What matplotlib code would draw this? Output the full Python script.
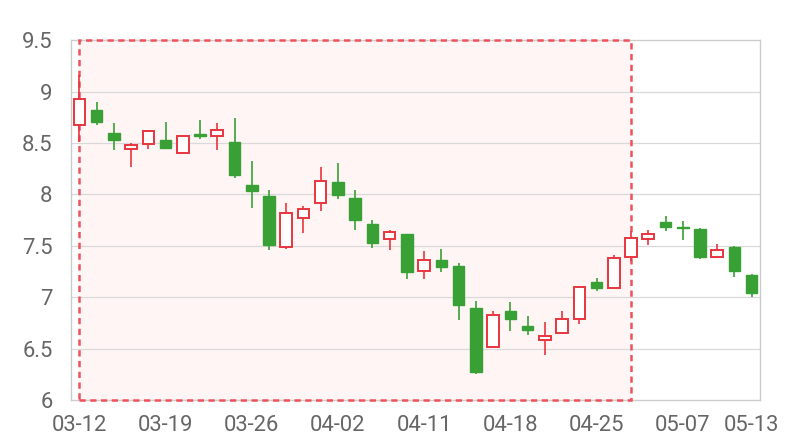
import matplotlib
matplotlib.use("Agg")
import matplotlib.pyplot as plt
from matplotlib.patches import Rectangle
import numpy as np

dates = ["03-12", "03-13", "03-14", "03-15", "03-18", "03-19", "03-20", "03-21", "03-22", "03-25",
         "03-26", "03-27", "03-28", "03-29", "04-01", "04-02", "04-03", "04-04", "04-09", "04-10",
         "04-11", "04-12", "04-15", "04-16", "04-17", "04-18", "04-19", "04-22", "04-23", "04-24",
         "04-25", "04-26", "04-29", "04-30", "05-06", "05-07", "05-08", "05-09", "05-10", "05-13"]
opens = [8.67, 8.82, 8.60, 8.44, 8.49, 8.53, 8.40, 8.59, 8.57, 8.51,
         8.09, 7.98, 7.49, 7.77, 7.92, 8.12, 7.96, 7.71, 7.57, 7.61,
         7.25, 7.36, 7.30, 6.89, 6.52, 6.87, 6.72, 6.58, 6.65, 6.79,
         7.15, 7.09, 7.39, 7.57, 7.73, 7.68, 7.66, 7.39, 7.49, 7.22]
closes = [8.93, 8.70, 8.53, 8.48, 8.62, 8.45, 8.57, 8.57, 8.63, 8.19,
          8.03, 7.51, 7.82, 7.86, 8.13, 7.99, 7.75, 7.53, 7.63, 7.24,
          7.36, 7.29, 6.92, 6.27, 6.83, 6.79, 6.68, 6.62, 6.79, 7.10,
          7.09, 7.38, 7.58, 7.61, 7.68, 7.67, 7.39, 7.46, 7.25, 7.04]
lows = [8.51, 8.67, 8.43, 8.27, 8.44, 8.44, 8.40, 8.54, 8.43, 8.16,
        7.87, 7.46, 7.47, 7.62, 7.84, 7.95, 7.65, 7.48, 7.46, 7.18,
        7.18, 7.24, 6.78, 6.25, 6.51, 6.67, 6.63, 6.44, 6.64, 6.74,
        7.06, 7.09, 7.35, 7.51, 7.64, 7.56, 7.37, 7.39, 7.20, 7.00]
highs = [9.16, 8.90, 8.69, 8.50, 8.63, 8.70, 8.58, 8.72, 8.69, 8.74,
         8.32, 8.04, 7.92, 7.89, 8.27, 8.30, 8.04, 7.75, 7.65, 7.61,
         7.45, 7.47, 7.33, 6.96, 6.87, 6.95, 6.82, 6.76, 6.87, 7.10,
         7.19, 7.41, 7.64, 7.65, 7.79, 7.74, 7.67, 7.52, 7.50, 7.23]
shade_start, shade_end = "03-12", "04-29"
shown_labels = ["03-12", "03-19", "03-26", "04-02", "04-11", "04-18", "04-25", "05-07", "05-13"]

up_color = "#e8353e"
down_color = "#38a035"
grid_color = "#d9d9d9"
text_color = "#666666"

plt.rcParams["font.family"] = ["Roboto", "DejaVu Sans"]

fig = plt.figure(figsize=(8, 4.4), dpi=100)
ax = fig.add_axes([0.0884, 0.0909, 0.862, 0.818])

x = np.arange(len(dates))
o = np.array(opens)
c = np.array(closes)
lo = np.array(lows)
hi = np.array(highs)
up = c >= o

# shaded mark area
x0 = dates.index(shade_start)
x1 = dates.index(shade_end)
ax.add_patch(Rectangle((x0, 6), x1 - x0, 3.5, facecolor="#fff5f5", edgecolor="none", zorder=0))

for yv in np.arange(6.5, 9.5, 0.5):
    ax.axhline(yv, color=grid_color, lw=0.9, zorder=1)

# dashed border drawn over the spines
ax.add_patch(Rectangle((x0, 6), x1 - x0, 3.5, facecolor="none", edgecolor="#f0525c",
                       lw=1.8, linestyle=(0, (2.5, 1.8)), zorder=3, clip_on=False))

colors = np.where(up, up_color, down_color)
ax.vlines(x, lo, hi, colors=colors, lw=1.2, zorder=3.5)
body_bottom = np.minimum(o, c)
body_height = np.abs(c - o)
ax.bar(x[up], body_height[up], bottom=body_bottom[up], width=0.67,
       facecolor="white", edgecolor=up_color, linewidth=1.4, zorder=4)
ax.bar(x[~up], body_height[~up], bottom=body_bottom[~up], width=0.67,
       facecolor=down_color, edgecolor=down_color, linewidth=1.0, zorder=4)

ax.set_xlim(-0.5, len(dates) - 0.5)
ax.set_ylim(6, 9.5)
ax.set_yticks(np.arange(6, 9.51, 0.5))
ax.set_yticklabels(["6", "6.5", "7", "7.5", "8", "8.5", "9", "9.5"])
ax.set_xticks([dates.index(d) for d in shown_labels])
ax.set_xticklabels(shown_labels)
ax.tick_params(axis="both", length=0, labelsize=15.8, colors=text_color)
ax.tick_params(axis="y", pad=13)
ax.tick_params(axis="x", pad=11)
for s in ax.spines.values():
    s.set_color("#cccccc")
    s.set_linewidth(1.0)

fig.savefig("out.png", dpi=100)
